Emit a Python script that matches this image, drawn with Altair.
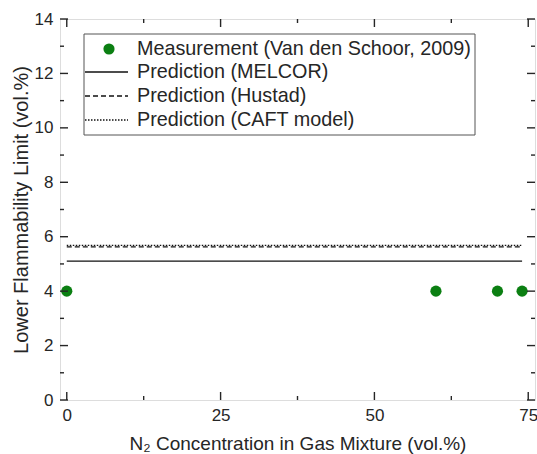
import altair as alt
import pandas as pd

# ---- data ----
meas_x = [0, 60, 70, 74]
meas_y = [4.0, 4.0, 4.0, 4.0]
pred_x = [0, 74]
melcor_y = [5.1, 5.1]
hustad_y = [5.63, 5.63]
caft_y = [5.68, 5.68]

x_major = [0, 25, 50, 75]
x_minor = [12.5, 37.5, 62.5]
y_major = [0, 2, 4, 6, 8, 10, 12, 14]
y_minor = [1, 3, 5, 7, 9, 11, 13]

legend_labels = ["Measurement (Van den Schoor, 2009)", "Prediction (MELCOR)",
                 "Prediction (Hustad)", "Prediction (CAFT model)"]

W, H = 475, 381
FONT = "Liberation Sans"
GREEN = "#0b7f12"
INK = "#262626"

xs = alt.Scale(domain=[-1.1, 76.1], nice=False, zero=False)
ys = alt.Scale(domain=[0, 14], nice=False)

meas = pd.DataFrame({"x": meas_x, "y": meas_y})
pred = pd.DataFrame({
    "x": pred_x * 3,
    "y": melcor_y + hustad_y + caft_y,
    "s": ["MELCOR"] * 2 + ["Hustad"] * 2 + ["CAFT"] * 2,
})

xaxis = alt.Axis(values=x_major, ticks=False, domain=False, grid=False, labelPadding=7,
                 labelFontSize=17, labelFont=FONT, labelColor=INK,
                 title="N\u2082 Concentration in Gas Mixture (vol.%)", titleFont=FONT,
                 titleFontSize=19, titleFontWeight="normal", titleColor=INK, titlePadding=11)
yaxis = alt.Axis(values=y_major, ticks=False, domain=False, grid=False, labelPadding=7,
                 labelFontSize=17, labelFont=FONT, labelColor=INK,
                 title="Lower Flammability Limit (vol.%)", titleFont=FONT,
                 titleFontSize=20, titleFontWeight="normal", titleColor=INK, titlePadding=3)

base_pts = alt.Chart(meas).mark_circle(size=125, color=GREEN, opacity=1).encode(
    x=alt.X("x:Q", scale=xs, axis=xaxis),
    y=alt.Y("y:Q", scale=ys, axis=yaxis),
)

def line(name, dash):
    d = pred[pred.s == name]
    props = dict(color="#111111", strokeWidth=1.3)
    if dash:
        props["strokeDash"] = dash
    return alt.Chart(d).mark_line(**props).encode(
        x=alt.X("x:Q", scale=xs), y=alt.Y("y:Q", scale=ys))

lines = [line("MELCOR", None), line("Hustad", [5, 3]), line("CAFT", [1.5, 1.5])]

def ticks_x(vals, L):
    d = pd.DataFrame({"v": vals})
    b = alt.Chart(d).mark_rule(color=INK, strokeWidth=1.4)
    return [
        b.encode(x=alt.X("v:Q", scale=xs), y=alt.value(H), y2=alt.value(H - L)),
        b.encode(x=alt.X("v:Q", scale=xs), y=alt.value(0), y2=alt.value(L)),
    ]

def ticks_y(vals, L):
    d = pd.DataFrame({"v": vals})
    b = alt.Chart(d).mark_rule(color=INK, strokeWidth=1.4)
    return [
        b.encode(y=alt.Y("v:Q", scale=ys), x=alt.value(0), x2=alt.value(L)),
        b.encode(y=alt.Y("v:Q", scale=ys), x=alt.value(W), x2=alt.value(W - L)),
    ]

tick_layers = ticks_x(x_major, 8) + ticks_x(x_minor, 4) + ticks_y(y_major, 8) + ticks_y(y_minor, 4)

# legend
one = pd.DataFrame({"a": [0]})
lx0, lx1, ly0, ly1 = 24, 415, 15, 116
rows_y = [30, 53, 77, 101]
leg_box = alt.Chart(one).mark_rect(fill="white", stroke="#555555", strokeWidth=1).encode(
    x=alt.value(lx0), x2=alt.value(lx1), y=alt.value(ly0), y2=alt.value(ly1))
leg_pt = alt.Chart(one).mark_circle(size=125, color=GREEN, opacity=1).encode(
    x=alt.value(49), y=alt.value(rows_y[0]))
leg_lines = []
for ry, dash in zip(rows_y[1:], [None, [5, 3], [1.5, 1.5]]):
    props = dict(color="#111111", strokeWidth=1.3)
    if dash:
        props["strokeDash"] = dash
    leg_lines.append(alt.Chart(one).mark_rule(**props).encode(
        x=alt.value(lx0 + 1), x2=alt.value(68), y=alt.value(ry), y2=alt.value(ry)))
leg_text = []
for ry, lab in zip(rows_y, legend_labels):
    leg_text.append(alt.Chart(one).mark_text(
        text=lab, align="left", baseline="middle", font=FONT, fontSize=19.8, color=INK).encode(
        x=alt.value(77), y=alt.value(ry)))

chart = alt.layer(
    *lines, base_pts, *tick_layers, leg_box, leg_pt, *leg_lines, *leg_text
).properties(
    width=W, height=H,
    autosize=alt.AutoSizeParams(type="none"),
    padding={"left": 60, "top": 19, "right": 2, "bottom": 54},
).configure_view(stroke=INK, strokeWidth=1.6).configure(background="white")

chart.save("out.html", embed_options={"renderer": "svg", "actions": False})
